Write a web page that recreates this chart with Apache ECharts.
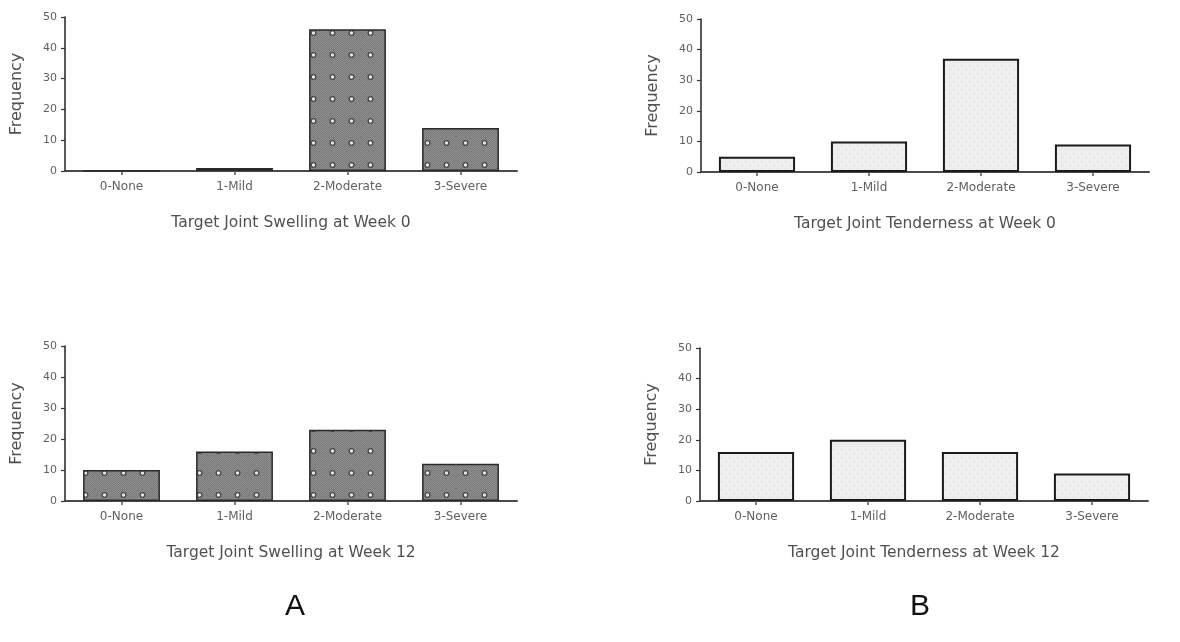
<!DOCTYPE html>
<html>
<head>
<meta charset="utf-8">
<script src="https://cdn.jsdelivr.net/npm/echarts@6/dist/echarts.min.js"></script>
<style>
html,body{margin:0;padding:0;background:#fff;}
#chart{width:1180px;height:642px;}
</style>
</head>
<body>
<div id="chart"></div>
<script>
// ---- data ----
const categories = ['0-None', '1-Mild', '2-Moderate', '3-Severe'];
const swellingWeek0 = [0, 1, 46, 14];
const swellingWeek12 = [10, 16, 23, 12];
const tendernessWeek0 = [5, 10, 37, 9];
const tendernessWeek12 = [16, 20, 16, 9];
const yMin = 0, yMax = 50, yInterval = 10;
const axisTitles = [
  'Target Joint Swelling at Week 0',
  'Target Joint Tenderness at Week 0',
  'Target Joint Swelling at Week 12',
  'Target Joint Tenderness at Week 12'
];
const yAxisTitle = 'Frequency';
const panelLetters = ['A', 'B'];

// ---- patterns (style only) ----
function darkPattern() {
  const c = document.createElement('canvas');
  c.width = 19; c.height = 22;
  const g = c.getContext('2d');
  g.fillStyle = '#909090';
  g.fillRect(0, 0, 19, 22);
  for (let y = 0; y < 22; y++) for (let x = 0; x < 19; x++) {
    if ((x + y) % 2 === 0) { g.fillStyle = '#787878'; g.fillRect(x, y, 1, 1); }
  }
  g.fillStyle = '#484848';
  g.beginPath(); g.arc(9.5, 11, 3.0, 0, Math.PI * 2); g.fill();
  g.fillStyle = '#e8e8e8';
  g.beginPath(); g.arc(9.5, 11, 1.7, 0, Math.PI * 2); g.fill();
  return c;
}
function lightPattern() {
  const c = document.createElement('canvas');
  c.width = 8; c.height = 8;
  const g = c.getContext('2d');
  g.fillStyle = '#eeeeee';
  g.fillRect(0, 0, 8, 8);
  g.fillStyle = '#cccccc';
  g.fillRect(1, 1, 1, 1);
  g.fillRect(5, 5, 1, 1);
  return c;
}
const darkFill = { image: darkPattern(), repeat: 'repeat' };
const lightFill = { image: lightPattern(), repeat: 'repeat' };

const font = "'DejaVu Sans', Verdana, sans-serif";
const letterFont = "'Liberation Sans', Arial, sans-serif";

const grids = [
  { left: 65, top: 17, width: 452, height: 154 },
  { left: 701, top: 19, width: 448, height: 153 },
  { left: 65, top: 346, width: 452, height: 155 },
  { left: 700, top: 348, width: 448, height: 153 }
];

const seriesData = [swellingWeek0, tendernessWeek0, swellingWeek12, tendernessWeek12];
const isDark = [true, false, true, false];

const option = {
  backgroundColor: '#fff',
  animation: false,
  title: [
    { text: panelLetters[0], left: 280, top: 587, textStyle: { fontFamily: letterFont, fontSize: 30, fontWeight: 'normal', color: '#111' } },
    { text: panelLetters[1], left: 905, top: 587, textStyle: { fontFamily: letterFont, fontSize: 30, fontWeight: 'normal', color: '#111' } }
  ],
  grid: grids,
  xAxis: grids.map((g, i) => ({
    type: 'category',
    gridIndex: i,
    data: categories,
    name: axisTitles[i],
    nameLocation: 'middle',
    nameGap: 44,
    nameTextStyle: { fontFamily: font, fontSize: 15.5, color: '#505050' },
    axisLine: { lineStyle: { color: '#4a4a4a', width: 2 } },
    axisTick: { show: true, alignWithLabel: true, length: 4, lineStyle: { color: '#555', width: 1.5 } },
    axisLabel: { fontFamily: font, fontSize: 12, color: '#5f5f5f', margin: 10 },
    splitLine: { show: false }
  })),
  yAxis: grids.map((g, i) => ({
    type: 'value',
    gridIndex: i,
    min: yMin, max: yMax, interval: yInterval,
    name: yAxisTitle,
    nameLocation: 'middle',
    nameRotate: 90,
    nameGap: 40,
    nameTextStyle: { fontFamily: font, fontSize: 16, color: '#505050' },
    axisLine: { show: true, lineStyle: { color: '#222', width: 1.5 } },
    axisTick: { show: true, length: 4, lineStyle: { color: '#333', width: 1.2 } },
    axisLabel: { fontFamily: font, fontSize: 11, color: '#5f5f5f', margin: 8 },
    splitLine: { show: false }
  })),
  series: seriesData.map((d, i) => ({
    type: 'bar',
    xAxisIndex: i,
    yAxisIndex: i,
    data: d,
    barCategoryGap: '32%',
    itemStyle: isDark[i]
      ? { color: darkFill, borderColor: '#2a2a2a', borderWidth: 1.5 }
      : { color: lightFill, borderColor: '#1a1a1a', borderWidth: 2 }
  }))
};

const chart = echarts.init(document.getElementById('chart'), null, { renderer: 'canvas' });
chart.setOption(option);
</script>
</body>
</html>
